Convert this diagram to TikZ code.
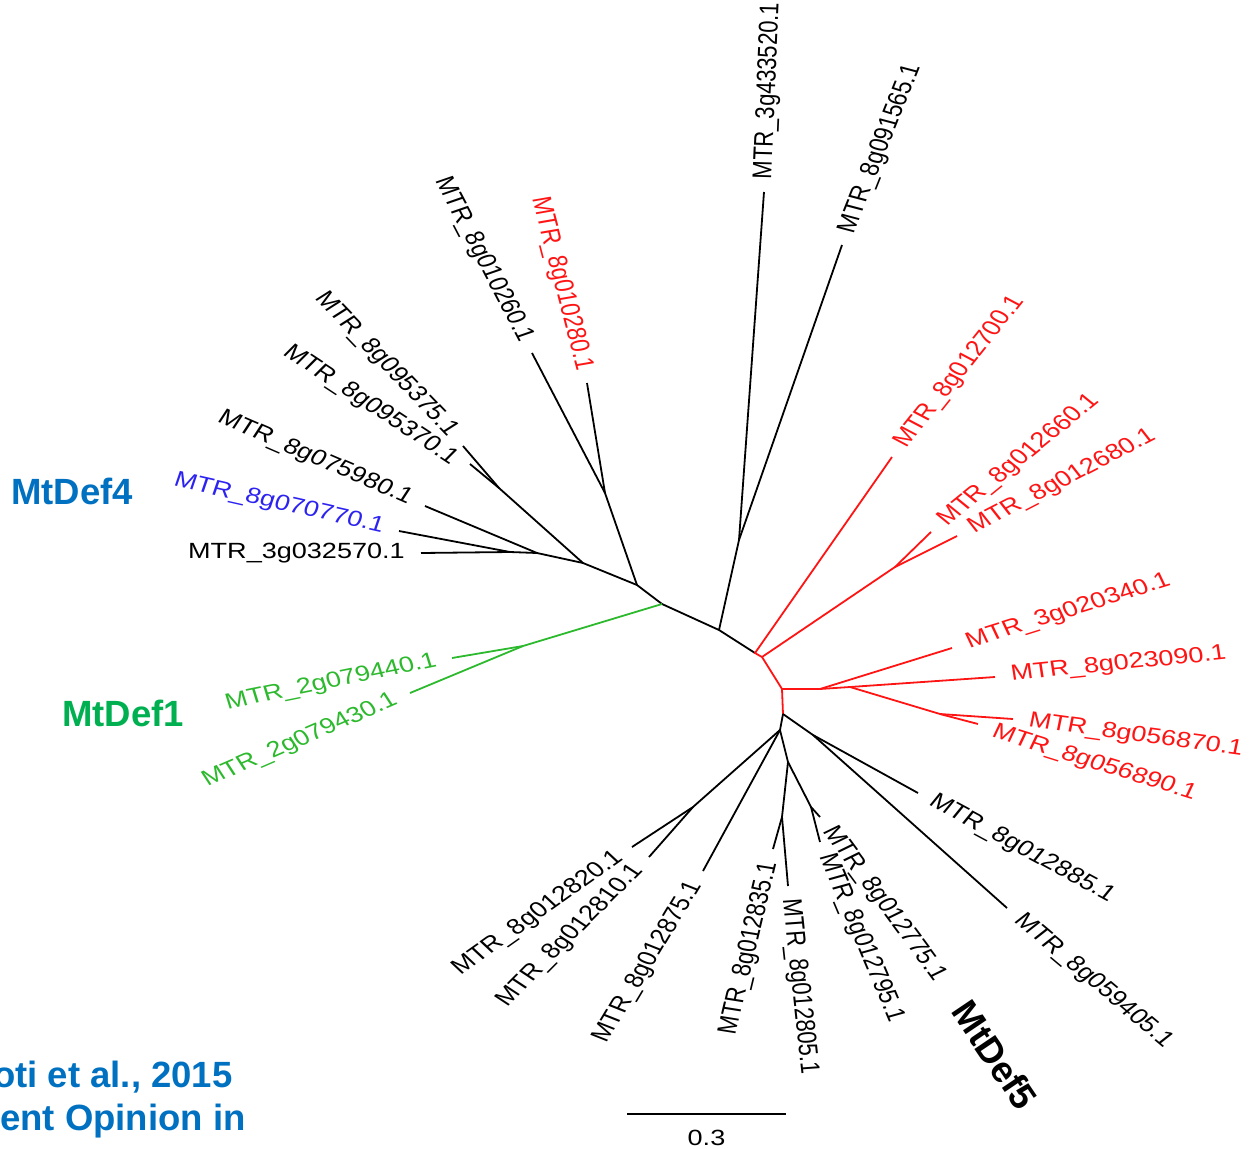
\documentclass[tikz,border=0pt]{standalone}
\usepackage{fontspec}
\setmainfont{Liberation Sans}
\usetikzlibrary{calc}

\definecolor{defblue}{HTML}{0070C0}
\definecolor{defgreen}{HTML}{00B050}
\definecolor{leafgreen}{RGB}{45,185,45}
\definecolor{leafblue}{RGB}{45,35,240}
\definecolor{leafred}{RGB}{255,20,20}

\tikzset{
  branch/.style={line width=1.8pt},
  leaf/.style={font=\fontsize{22}{26}\selectfont, xscale=1.23, inner xsep=13pt, inner ysep=0pt},
  bigname/.style={font=\fontsize{36.5}{40}\selectfont\bfseries, inner sep=0pt},
}

\begin{document}
\begin{tikzpicture}[x=1pt,y=-1pt]
    \useasboundingbox (0,0) rectangle (1251,1149);

    % inner nodes
    \coordinate (a) at (510,552);
    \coordinate (b) at (537,553);
    \coordinate (c1) at (499,488);
    \coordinate (c) at (583,563);
    \coordinate (d1) at (605,493);
    \coordinate (d) at (637,585);
    \coordinate (e) at (662,604);
    \coordinate (g) at (523,646);
    \coordinate (f) at (719,630);
    \coordinate (h) at (739,540);
    \coordinate (r0) at (755,653);
    \coordinate (r1) at (762,657);
    \coordinate (r2) at (782,689);
    \coordinate (r3) at (895,567);
    \coordinate (r4) at (820,689);
    \coordinate (r5) at (850,687);
    \coordinate (r6) at (940,714);
    \coordinate (r7) at (783,714);
    \coordinate (k) at (780,730);
    \coordinate (m) at (813,735);
    \coordinate (p) at (693,807);
    \coordinate (q) at (788,762);
    \coordinate (q1) at (782,817);
    \coordinate (q2) at (811,807);

    % tips
    \coordinate (tip1) at (764,192);
    \coordinate (tip2) at (842,245);
    \coordinate (tip3) at (892,457);
    \coordinate (tip4) at (931,532);
    \coordinate (tip5) at (957,536);
    \coordinate (tip6) at (952,648);
    \coordinate (tip7) at (995,677);
    \coordinate (tip8) at (1013,719);
    \coordinate (tip9) at (978,724);
    \coordinate (tip10) at (918,793);
    \coordinate (tip11) at (1007,908);
    \coordinate (tip12) at (820,817);
    \coordinate (tip13) at (820,842);
    \coordinate (tip14) at (788,886);
    \coordinate (tip15) at (773,849);
    \coordinate (tip16) at (703,871);
    \coordinate (tip17) at (649,857);
    \coordinate (tip18) at (632,847);
    \coordinate (tip19) at (410,693);
    \coordinate (tip20) at (452,658);
    \coordinate (tip21) at (421,553);
    \coordinate (tip22) at (399,531);
    \coordinate (tip23) at (425,506);
    \coordinate (tip24) at (470,464);
    \coordinate (tip25) at (463,446);
    \coordinate (tip26) at (532,353);
    \coordinate (tip27) at (587,383);

    \draw [branch] (tip21) -- (a) -- (b) -- (c) -- (d) -- (e) -- (f) -- (r0);
    \draw [branch] (tip22) -- (a);
    \draw [branch] (tip23) -- (b);
    \draw [branch] (tip25) -- (c1) -- (c);
    \draw [branch] (tip24) -- (c1);
    \draw [branch] (tip26) -- (d1) -- (d);
    \draw [branch] (tip27) -- (d1);
    \draw [branch] (tip1) -- (h) -- (f);
    \draw [branch] (tip2) -- (h);
    \draw [branch, leafgreen] (e) -- (g) -- (tip19);
    \draw [branch, leafgreen] (g) -- (tip20);
    \draw [branch, leafred] (tip3) -- (r0) -- (r1) -- (r2) -- (r4) -- (r5) -- (tip7);
    \draw [branch, leafred] (r1) -- (r3) -- (tip4);
    \draw [branch, leafred] (r3) -- (tip5);
    \draw [branch, leafred] (r4) -- (tip6);
    \draw [branch, leafred] (r5) -- (r6) -- (tip8);
    \draw [branch, leafred] (r6) -- (tip9);
    \draw [branch, leafred] (r2) -- (r7);
    \draw [branch] (r7) -- (k) -- (p) -- (tip18);
    \draw [branch] (p) -- (tip17);
    \draw [branch] (k) -- (tip16);
    \draw [branch] (k) -- (q) -- (q1) -- (tip15);
    \draw [branch] (q1) -- (tip14);
    \draw [branch] (q) -- (q2) -- (tip12);
    \draw [branch] (q2) -- (tip13);
    \draw [branch] (r7) -- (m) -- (tip10);
    \draw [branch] (m) -- (tip11);

    \node[leaf, rotate=88, anchor=west] (lab1) at (tip1) {MTR\_3g433520.1};
    \node[leaf, rotate=72, anchor=west] (lab2) at (tip2) {MTR\_8g091565.1};
    \node[leaf, rotate=57, anchor=west, leafred] (lab3) at (tip3) {MTR\_8g012700.1};
    \node[leaf, rotate=45, anchor=west, leafred] (lab4) at (tip4) {MTR\_8g012660.1};
    \node[leaf, rotate=32.5, anchor=west, leafred] (lab5) at (tip5) {MTR\_8g012680.1};
    \node[leaf, rotate=21, anchor=west, leafred] (lab6) at (tip6) {MTR\_3g020340.1};
    \node[leaf, rotate=7, anchor=west, leafred] (lab7) at (tip7) {MTR\_8g023090.1};
    \node[leaf, rotate=-9.5, anchor=west, leafred] (lab8) at (tip8) {MTR\_8g056870.1};
    \node[leaf, rotate=-21, anchor=west, leafred] (lab9) at ($(tip9)+(0,3)$) {MTR\_8g056890.1};
    \node[leaf, rotate=-33.5, anchor=west] (lab10) at (tip10) {MTR\_8g012885.1};
    \node[leaf, rotate=-46, anchor=west] (lab11) at (tip11) {MTR\_8g059405.1};
    \node[leaf, rotate=-59, anchor=west] (lab12) at (tip12) {MTR\_8g012775.1};
    \node[leaf, rotate=-71, anchor=west] (lab13) at (tip13) {MTR\_8g012795.1};
    \node[leaf, rotate=-85, anchor=west] (lab14) at (tip14) {MTR\_8g012805.1};
    \node[leaf, rotate=79, anchor=east] (lab15) at (tip15) {MTR\_8g012835.1};
    \node[leaf, rotate=64, anchor=east] (lab16) at (tip16) {MTR\_8g012875.1};
    \node[leaf, rotate=51, anchor=east] (lab17) at (tip17) {MTR\_8g012810.1};
    \node[leaf, rotate=41, anchor=east] (lab18) at (tip18) {MTR\_8g012820.1};
    \node[leaf, rotate=28, anchor=east, leafgreen] (lab19) at (tip19) {MTR\_2g079430.1};
    \node[leaf, rotate=14, anchor=east, leafgreen] (lab20) at (tip20) {MTR\_2g079440.1};
    \node[leaf, anchor=east] (lab21) at (tip21) {MTR\_3g032570.1};
    \node[leaf, rotate=-15.5, anchor=east, leafblue] (lab22) at (tip22) {MTR\_8g070770.1};
    \node[leaf, rotate=-28, anchor=east] (lab23) at (tip23) {MTR\_8g075980.1};
    \node[leaf, rotate=-39, anchor=east] (lab24) at ($(tip24)+(-3,5)$) {MTR\_8g095370.1};
    \node[leaf, rotate=-52, anchor=east] (lab25) at ($(tip25)+(0,-2)$) {MTR\_8g095375.1};
    \node[leaf, rotate=-67, anchor=east] (lab26) at (tip26) {MTR\_8g010260.1};
    \node[leaf, rotate=-78, anchor=east, leafred] (lab27) at (tip27) {MTR\_8g010280.1};

    % scale bar
    \coordinate (sb0) at (627,1114);
    \coordinate (sb1) at (786,1114);
    \draw [line width=2pt] (sb0) -- (sb1);
    \node[leaf, inner xsep=0pt, anchor=north] (sblab) at ($(sb0)!0.5!(sb1)+(0,16)$) {0.3};

    \node[bigname, defblue] (def4) at (72,491) {MtDef4};
    \node[bigname, defgreen] (def1) at (123,713) {MtDef1};
    \node[bigname, rotate=-56] (def5) at (995,1055) {MtDef5};
    \node[bigname, defblue, anchor=west] (ref1) at (-7,1077) {oti et al., 2015};
    \node[bigname, defblue, anchor=west] (ref2) at (0,1121) {ent Opinion in};

\end{tikzpicture}
\end{document}
